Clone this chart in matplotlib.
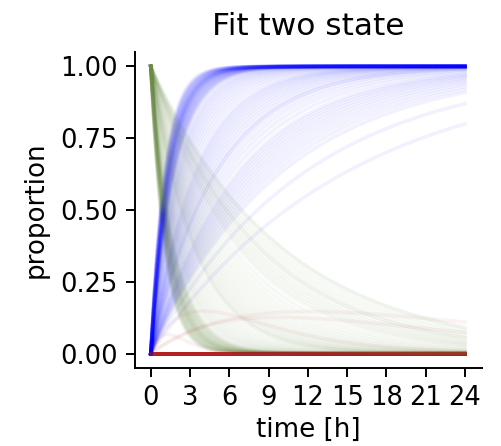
import numpy as np
import matplotlib
matplotlib.use("Agg")
import matplotlib.pyplot as plt
from matplotlib.ticker import FormatStrFormatter

# evaluation grid of the fitted curves [h]
time_h = np.arange(0, 24.25, 0.25)

# per-sample fitted rate of loss of the initial state (green) [1/h]
green_rate = [
    0.95, 0.92, 0.9, 0.88, 0.86, 0.85, 0.84, 0.82, 0.8, 0.8,
    0.78, 0.77, 0.76, 0.75, 0.74, 0.73, 0.72, 0.71, 0.7, 0.7,
    0.69, 0.68, 0.67, 0.66, 0.65, 0.64, 0.63, 0.62, 0.61, 0.6,
    0.59, 0.58, 0.57, 0.56, 0.55,
    0.53, 0.5, 0.48, 0.46, 0.44, 0.42, 0.4, 0.38, 0.36, 0.34,
    0.32, 0.3, 0.29, 0.28, 0.27, 0.26, 0.25, 0.24, 0.23, 0.22,
    0.21, 0.2, 0.19, 0.18,
    0.17, 0.16, 0.15, 0.145, 0.14, 0.135, 0.13, 0.125, 0.12, 0.115,
    0.11, 0.105, 0.1,
    0.9, 0.3, 0.12, 0.1,
]

# per-sample fitted rate of gain of the final state (blue) [1/h]
blue_rate = [
    0.95, 0.92, 0.9, 0.88, 0.86, 0.85, 0.84, 0.82, 0.8, 0.8,
    0.78, 0.77, 0.76, 0.75, 0.74, 0.73, 0.72, 0.71, 0.7, 0.7,
    0.69, 0.68, 0.67, 0.66, 0.65, 0.64, 0.63, 0.62, 0.61, 0.6,
    0.59, 0.58, 0.57, 0.56, 0.55,
    0.53, 0.5, 0.48, 0.46, 0.44, 0.42, 0.4, 0.38, 0.36, 0.34,
    0.32, 0.3, 0.29, 0.28, 0.27, 0.26, 0.25, 0.24, 0.23, 0.22,
    0.21, 0.2, 0.19, 0.18,
    0.17, 0.16, 0.15, 0.145, 0.14, 0.135, 0.13, 0.125, 0.12, 0.115,
    0.11, 0.105, 0.1,
    0.75, 0.2, 0.085, 0.067,
]

title = "Fit two state"
x_label = "time [h]"
y_label = "proportion"
x_ticks = [0, 3, 6, 9, 12, 15, 18, 21, 24]
y_ticks = [0.0, 0.25, 0.5, 0.75, 1.0]

plt.rcParams["font.family"] = ["DejaVu Sans"]

fig = plt.figure(figsize=(5.01, 4.46), dpi=100)
ax = fig.add_axes([0.2695, 0.175, 0.962 - 0.2695, 0.8834 - 0.175])

t = np.asarray(time_h, dtype=float)
alpha = 0.05
lw = 2.6
for kg, kb in zip(green_rate, blue_rate):
    green = np.exp(-kg * t)
    blue = 1 - np.exp(-kb * t)
    red = np.clip(1 - green - blue, 0, None)
    ax.plot(t, blue, color="blue", alpha=alpha, lw=lw)
    ax.plot(t, red, color="firebrick", alpha=alpha, lw=lw)
    ax.plot(t, green, color="#6a8c45", alpha=alpha, lw=lw)

ax.set_xticks(x_ticks)
ax.set_yticks(y_ticks)
ax.yaxis.set_major_formatter(FormatStrFormatter("%.2f"))
ax.set_xlim(-1.2, 25.3)
ax.set_ylim(-0.05, 1.05)

for s in ["top", "right"]:
    ax.spines[s].set_visible(False)
for s in ["left", "bottom"]:
    ax.spines[s].set_linewidth(1.4)
ax.tick_params(axis="both", labelsize=18.5, length=6.5, width=1.4, pad=6)

ax.set_title(title, fontsize=22.5, pad=12)
ax.set_xlabel(x_label, fontsize=18.8, labelpad=4)
ax.set_ylabel(y_label, fontsize=18.8, labelpad=8)

fig.savefig("out.png", dpi=100)
